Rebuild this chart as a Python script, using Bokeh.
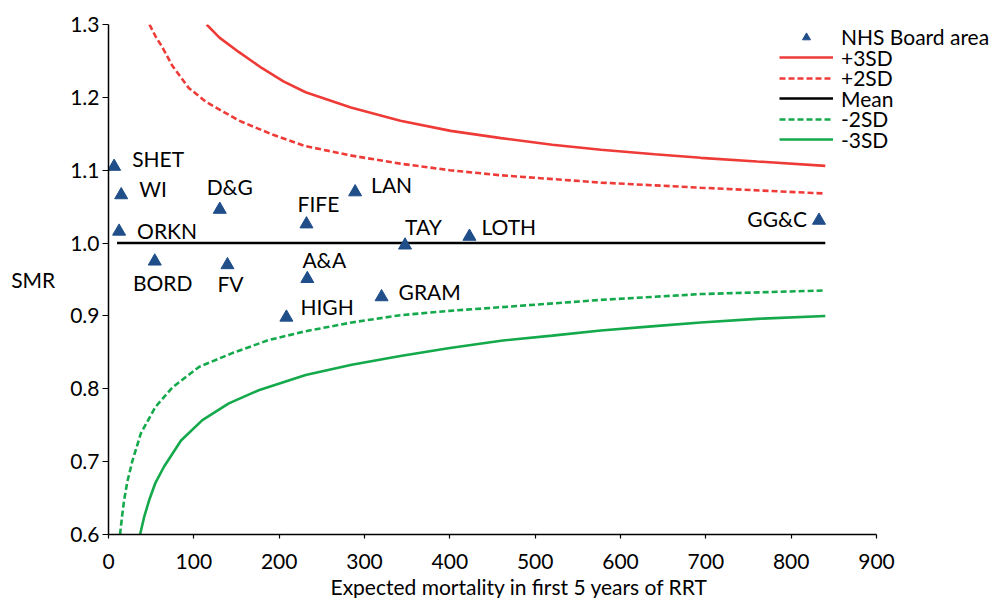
from bokeh.plotting import figure
from bokeh.models import (ColumnDataSource, LabelSet, Legend, LegendItem,
                          FixedTicker, Range1d, CustomJSTickFormatter, Title)
from bokeh.embed import file_html
from bokeh.resources import INLINE
from bokeh.core.properties import value

# ---- data ----
board_names = ["SHET", "WI", "ORKN", "BORD", "D&G", "FV", "FIFE", "A&A",
               "HIGH", "LAN", "GRAM", "TAY", "LOTH", "GG&C"]
board_expected = [6.6, 14.9, 12.4, 54.2, 130.4, 139.4, 232, 233,
                  208.5, 289, 320, 347.5, 423, 832.6]
board_smr = [1.105, 1.066, 1.016, 0.975, 1.046, 0.970, 1.026, 0.951,
             0.898, 1.070, 0.926, 0.997, 1.009, 1.031]

plus3_e = [115, 130, 153, 180, 205, 231, 284, 342, 401, 460, 520, 577, 640, 694, 760, 840]
plus3_smr = [1.300, 1.282, 1.262, 1.240, 1.222, 1.207, 1.186, 1.168, 1.154, 1.144,
             1.135, 1.128, 1.122, 1.117, 1.112, 1.106]

plus2_e = [48, 55, 63, 75, 94, 114, 153, 192, 231, 285, 342, 400, 460, 577, 694, 840]
plus2_smr = [1.300, 1.284, 1.269, 1.243, 1.213, 1.194, 1.168, 1.149, 1.133, 1.120,
             1.109, 1.100, 1.093, 1.083, 1.076, 1.068]

mean_e = [10, 840]
mean_smr = [1.0, 1.0]

minus2_e = [13.5, 16, 18.3, 22, 28, 38, 55, 75, 106, 145, 188, 231, 285, 342, 400,
            460, 577, 694, 840]
minus2_smr = [0.600, 0.626, 0.647, 0.672, 0.701, 0.739, 0.775, 0.802, 0.830, 0.849,
              0.867, 0.879, 0.891, 0.901, 0.907, 0.912, 0.922, 0.930, 0.935]

minus3_e = [37, 42, 47.6, 55, 65, 85, 110, 141, 176, 231, 285, 342, 400, 460, 520,
            577, 640, 694, 760, 840]
minus3_smr = [0.600, 0.625, 0.647, 0.671, 0.693, 0.729, 0.757, 0.780, 0.798, 0.819,
              0.833, 0.845, 0.856, 0.866, 0.873, 0.880, 0.886, 0.891, 0.896, 0.900]

x_ticks = [0, 100, 200, 300, 400, 500, 600, 700, 800, 900]
y_ticks = [0.6, 0.7, 0.8, 0.9, 1.0, 1.1, 1.2, 1.3]
x_axis_title = "Expected mortality in first 5 years of RRT"
y_axis_title = "SMR"
legend_labels = ["NHS Board area", "+3SD", "+2SD", "Mean", "-2SD", "-3SD"]

# label placement (screen px offsets, styling only)
label_align = ["left", "left", "left", "center", "center", "center", "center", "center",
               "left", "left", "left", "left", "left", "right"]
label_dx = [18, 18, 18, 8, 10, 3, 12, 17, 14, 16, 17, 0, 12, -12]
label_dy = [8, 6, 1, -21, 23, -19, 21, 19, 11, 8, 5, 19, 10, 2]

FONT = "Lato"
RED = "#ee3b37"
GREEN = "#14a94b"
NAVY = "#1f4e89"

# frame: x=0 at px 108, x=900 at px 876; frame extended to the right edge so the
# legend (which sits beyond x=900) is not clipped; axis drawn only over 0..900
PX_LEFT, PX_900, W, H = 108, 876, 992, 598
FRAME_TOP, FRAME_BOTTOM = 24, 534
x_end = 900 * (W - PX_LEFT) / (PX_900 - PX_LEFT)

p = figure(width=W, height=H, output_backend="svg", toolbar_location=None,
           x_range=Range1d(0, x_end), y_range=Range1d(0.6, 1.3),
           min_border_left=PX_LEFT, min_border_right=0, min_border_top=FRAME_TOP,
           min_border_bottom=H - FRAME_BOTTOM)
p.outline_line_color = None
p.grid.visible = False
p.background_fill_color = "white"
p.border_fill_color = "white"

r_p3 = p.line(plus3_e, plus3_smr, line_color=RED, line_width=2.6)
r_p2 = p.line(plus2_e, plus2_smr, line_color=RED, line_width=2.6, line_dash="6 3")
r_mean = p.line(mean_e, mean_smr, line_color="black", line_width=2.6)
r_m2 = p.line(minus2_e, minus2_smr, line_color=GREEN, line_width=2.6, line_dash="6 3")
r_m3 = p.line(minus3_e, minus3_smr, line_color=GREEN, line_width=2.6)

src = ColumnDataSource(dict(x=board_expected, y=board_smr, name=board_names,
                            align=label_align, dx=label_dx, dy=label_dy))
r_pts = p.scatter("x", "y", source=src, marker="triangle", size=13,
                  fill_color=NAVY, line_color=NAVY)

labels = LabelSet(x="x", y="y", text="name", source=src, x_offset="dx", y_offset="dy",
                  text_align="align", text_baseline="middle",
                  text_font=value(FONT), text_font_size="21px", text_color="black")
p.add_layout(labels)

# axes
for ax in (p.xaxis[0], p.yaxis[0]):
    ax.axis_line_color = "black"
    ax.axis_line_width = 1.5
    ax.major_tick_line_color = "black"
    ax.major_tick_line_width = 1.2
    ax.minor_tick_line_color = None
    ax.major_tick_in = 0
    ax.major_label_text_font = FONT
    ax.major_label_text_font_size = "21px"
    ax.major_label_text_color = "black"
    ax.axis_label_text_font = FONT
    ax.axis_label_text_font_size = "21px"
    ax.axis_label_text_font_style = "normal"
    ax.axis_label_text_color = "black"

p.xaxis.ticker = FixedTicker(ticks=x_ticks)
p.xaxis.bounds = (0, 900)
p.xaxis.major_tick_out = 4
p.xaxis.major_label_standoff = 15

xt = Title(text=x_axis_title, align="left", offset=222, standoff=0,
           text_font=FONT, text_font_size="21px", text_font_style="normal",
           text_color="black")
p.add_layout(xt, "below")

p.yaxis.ticker = FixedTicker(ticks=y_ticks)
p.yaxis.formatter = CustomJSTickFormatter(code="return tick.toFixed(1);")
p.yaxis.major_tick_out = 6
p.yaxis.major_label_standoff = 3
p.yaxis.axis_label = y_axis_title
p.yaxis.axis_label_orientation = "horizontal"
p.yaxis.axis_label_standoff = 12

# legend: one single-item legend per row so rows sit ~20.5 px apart like the reference
legend_renderers = [r_pts, r_p3, r_p2, r_mean, r_m2, r_m3]
ROW_H = 25          # box height bokeh uses for a 21px label
FIRST_CENTER = 36.5
ROW_STEP = 20.5
for i, (lab, rend) in enumerate(zip(legend_labels, legend_renderers)):
    center = FIRST_CENTER + ROW_STEP * i
    bottom_from_frame_bottom = FRAME_BOTTOM - (center + ROW_H / 2)
    lg = Legend(items=[LegendItem(label=lab, renderers=[rend])],
                location=(779 - PX_LEFT, bottom_from_frame_bottom))
    lg.glyph_width = 54
    lg.glyph_height = 20
    lg.label_height = 20
    lg.spacing = 0
    lg.padding = 0
    lg.margin = 0
    lg.label_standoff = 8
    lg.border_line_color = None
    lg.background_fill_alpha = 0
    lg.label_text_font = FONT
    lg.label_text_font_size = "21px"
    lg.label_text_color = "black"
    p.add_layout(lg)

open("out.html", "w").write(file_html(p, INLINE))
